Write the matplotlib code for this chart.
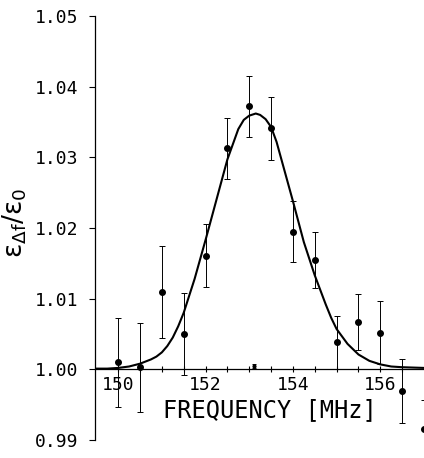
import matplotlib
matplotlib.use("Agg")
import matplotlib.pyplot as plt
import matplotlib.ticker as mtick

# measured points (frequency MHz, eps ratio, error)
freq = [150.0, 150.5, 151.0, 151.5, 152.0, 152.5, 153.0, 153.5,
        154.0, 154.5, 155.0, 155.5, 156.0, 156.5, 157.0]
ratio = [1.0010, 1.0003, 1.0109, 1.0050, 1.0161, 1.0313, 1.0372, 1.0341,
         1.0195, 1.0155, 1.0038, 1.0067, 1.0052, 0.9969, 0.9915]
err = [0.0063, 0.0063, 0.0065, 0.0058, 0.0044, 0.0043, 0.0043, 0.0045,
       0.0043, 0.0040, 0.0038, 0.0039, 0.0044, 0.0045, 0.0042]

# small mark at centre
mark_f = [153.1]
mark_r = [1.0005]
mark_e = [0.0003]

# fitted curve
fit_f = [149.47, 149.75, 150.0, 150.25, 150.5, 150.75, 150.875, 151.0, 151.125,
         151.25, 151.375, 151.5, 151.75, 152.0, 152.25, 152.5, 152.75, 152.875,
         153.0, 153.15, 153.25, 153.375, 153.5, 153.625, 153.75, 154.0, 154.25,
         154.5, 154.75, 154.875, 155.0, 155.25, 155.5, 155.75, 156.0, 156.25,
         156.5, 157.0]
fit_r = [1.0001, 1.0001, 1.0002, 1.0004, 1.0008, 1.0014, 1.0018, 1.0024, 1.0033,
         1.0045, 1.0061, 1.0080, 1.0128, 1.0183, 1.0240, 1.0297, 1.0340, 1.0353,
         1.0359, 1.0362, 1.0360, 1.0354, 1.0343, 1.0322, 1.0294, 1.0238, 1.0180,
         1.0133, 1.0092, 1.0073, 1.0057, 1.0036, 1.0021, 1.0012, 1.0007, 1.0004,
         1.0003, 1.0002]

plt.rcParams['font.family'] = ['DejaVu Sans Mono']

fig = plt.figure(figsize=(4.24, 4.58), dpi=100)
ax = fig.add_axes([95/424, 1-440/458, 329/424, 424/458])

ax.plot(fit_f, fit_r, color='black', lw=1.5, solid_capstyle='butt')
ax.errorbar(freq, ratio, yerr=err, fmt='o', color='black', ms=4,
            elinewidth=0.7, capsize=2, capthick=0.7, clip_on=False)
ax.errorbar(mark_f, mark_r, yerr=mark_e, fmt='o', color='black', ms=2,
            elinewidth=0.7, capsize=1.5, capthick=0.7, clip_on=False)

ax.set_xlim(149.47, 157.0)
ax.set_ylim(0.99, 1.05)

ax.spines['top'].set_visible(False)
ax.spines['right'].set_visible(False)
ax.spines['bottom'].set_position(('data', 1.00))
ax.spines['left'].set_linewidth(0.9)
ax.spines['bottom'].set_linewidth(0.9)

ax.set_yticks([0.99, 1.00, 1.01, 1.02, 1.03, 1.04, 1.05])
ax.yaxis.set_major_formatter(mtick.FormatStrFormatter('%.2f'))
ax.set_xticks([150, 152, 154, 156])
ax.set_xticks([150.5, 151, 151.5, 152.5, 153, 153.5, 154.5, 155, 155.5, 156.5],
              minor=True)
ax.tick_params(axis='y', direction='out', length=4, width=0.8, pad=8,
               labelsize=13)
ax.tick_params(axis='x', which='both', direction='inout', length=5, width=0.8,
               pad=2, labelsize=13)

ax.set_xlabel('FREQUENCY [MHz]', fontsize=17)
ax.xaxis.set_label_coords((270-95)/329, (440-398)/424)
ax.set_ylabel(r'$\mathrm{\epsilon}_{\mathrm{\Delta f}}/\mathrm{\epsilon}_\mathrm{0}$',
              fontsize=19, family='DejaVu Sans')
ax.yaxis.set_label_coords(-(95-29)/329, (440-223)/424)

fig.savefig('out.png', dpi=100)
